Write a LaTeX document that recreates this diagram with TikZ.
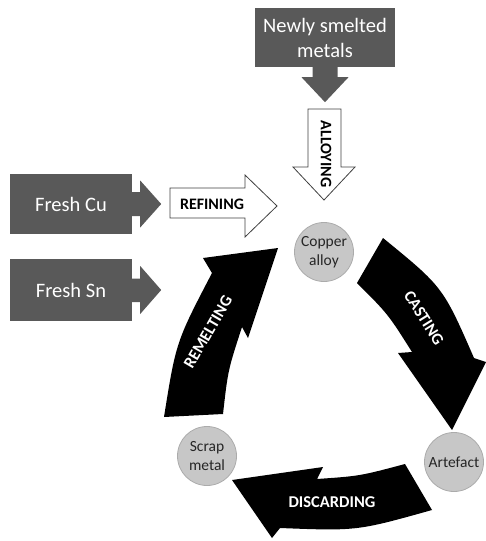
\documentclass[tikz,border=0pt]{standalone}
\usepackage{fontspec}
\setmainfont{Carlito}
\newfontfamily\flatlbl{Carlito}[Kerning=Off, Ligatures=NoCommon]
\usetikzlibrary{positioning}
\definecolor{boxgray}{HTML}{595959}
\definecolor{linegray}{HTML}{404040}

\begin{document}
\begin{tikzpicture}[x=1pt, y=-1pt,
      srcbox/.style = {rectangle, fill=boxgray, text=white, inner sep=0pt, align=center,
                       font=\fontsize{20.5}{25}\selectfont},
       stage/.style = {circle, fill=black!22, draw=black!33, line width=0.8pt, minimum size=59pt,
                       inner sep=0pt, align=center, text=black!85, font=\fontsize{15.5}{19.5}\selectfont},
      hollow/.style = {fill=white, draw=linegray, line width=0.8pt, line join=miter},
       cycle/.style = {fill=black},
    steplbl/.style = {inner sep=0pt, font=\flatlbl\fontsize{16.5}{18}\selectfont\bfseries},
                        ]
\useasboundingbox (0,0) rectangle (486,541);
% input boxes
\node (newly) [srcbox, minimum width=140pt, minimum height=59pt] at (325,37.5) {Newly smelted\\metals};
\node (cu)    [srcbox, minimum width=122pt, minimum height=60pt] at (71,204) {Fresh Cu};
\node (sn)    [srcbox, minimum width=122pt, minimum height=62pt] at (71,290) {Fresh Sn};
\fill[boxgray] (newly.south) ++(-12.5,-1) -- ++(0,11) -- ++(-11,0) -- ++(23.5,25)
               -- ++(23.5,-25) -- ++(-11,0) -- ++(0,-11) -- cycle;
\fill[boxgray] (cu.east) ++(-1,-12) -- ++(9,0) -- ++(0,-11.5) -- ++(21,23.5)
               -- ++(-21,23.5) -- ++(0,-11.5) -- ++(-9,0) -- cycle;
\fill[boxgray] (sn.east) ++(-1,-11.5) -- ++(9,0) -- ++(0,-12.5) -- ++(21,24)
               -- ++(-21,24) -- ++(0,-12) -- ++(-9,0) -- cycle;
% white arrows
\draw[hollow] (308,109) -- (341,109) -- (341,167) -- (355,167) -- (324,200)
              -- (293,167) -- (308,167) -- cycle;
\draw[hollow] (170,188) -- (245,188) -- (245,175) -- (277,206) -- (245,237)
              -- (245,218) -- (170,218) -- cycle;
\node (alloying) [steplbl, rotate=-90, font=\fontsize{16}{18}\selectfont\bfseries] at (326,154) {ALLOYING};
\node (refining) [steplbl, font=\fontsize{16}{18}\selectfont\bfseries] at (212,204) {REFINING};
% the cycle
\fill[cycle] (164,417) -- (223,414) .. controls (228,370) .. (242,327) -- (248,338)
             -- (278,248) -- (203,258) -- (212,273) .. controls (176,342) .. cycle;
\fill[cycle] (383,238) .. controls (443,287) .. (474,358) -- (486,362) -- (452,430)
             -- (398,353) -- (412,352) .. controls (388,314) .. (357,283) -- cycle;
\fill[cycle] (405,464) .. controls (360,476) .. (317,479) -- (323,467) -- (232,480)
             -- (272,538) -- (280,528) .. controls (357,531) .. (432,510) -- cycle;
\node (remelting)  [steplbl, text=white, rotate=60]  at (208,332) {REMELTING};
\node (casting)    [steplbl, text=white, rotate=-58] at (424,318) {CASTING};
\node (discarding) [steplbl, text=white]             at (332,502) {DISCARDING};
% stages
\node (copper)   [stage] at (324,252) {Copper\\alloy};
\node (artefact) [stage] at (454,462) {Artefact};
\node (scrap)    [stage] at (207,456) {Scrap\\metal};
\end{tikzpicture}
\end{document}
